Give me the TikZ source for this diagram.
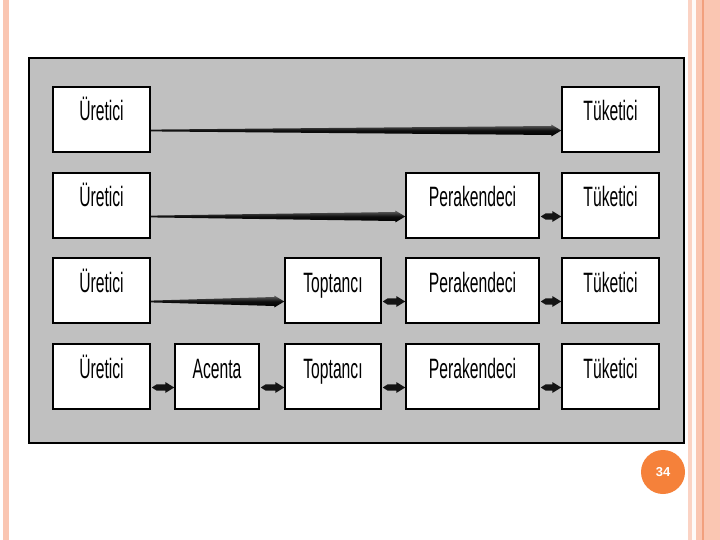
\documentclass[tikz,border=0pt]{standalone}
\usepackage{fontspec}
\setmainfont{Liberation Sans}
\newfontfamily\narrowfont[FakeStretch=0.56]{Liberation Sans}
\usetikzlibrary{calc}
\definecolor{panelgray}{HTML}{C0C0C0}
\definecolor{salmon}{HTML}{FAC6B2}
\definecolor{lightsalmon}{HTML}{FBD3C4}
\definecolor{stripeline}{HTML}{F2A07E}
\definecolor{badge}{HTML}{F5813A}
\tikzset{
  box/.style={draw=black, line width=1.5pt, fill=white, rectangle, inner sep=0pt,
    minimum height=65pt, text height=34pt, text depth=31pt,
    font=\narrowfont\fontsize{28}{30}\selectfont},
}
\newcommand{\longarrow}[2]{%
  \path let \p1=(#1.east), \p2=(#2.west) in
    [left color=black!60, right color=black, middle color=black!95, shading angle=0]
    (\x1, \y1-11pt+0.9pt) -- (\x2-10pt, \y1-11pt+4.5pt) -- (\x2-10pt, \y1-11pt+6pt)
    -- (\x2, \y1-11pt) -- (\x2-10pt, \y1-11pt-6pt) -- (\x2-10pt, \y1-11pt-4.5pt)
    -- (\x1, \y1-11pt-0.9pt) -- cycle;}
\newcommand{\shortarrow}[2]{%
  \path let \p1=(#1.east), \p2=(#2.west) in
    [fill=black!92]
    (\x1+1pt, \y1-11pt) -- (\x1+6pt, \y1-11pt+3.2pt) -- (\x2-9pt, \y1-11pt+3.2pt)
    -- (\x2-9pt, \y1-11pt+5.5pt) -- (\x2, \y1-11pt) -- (\x2-9pt, \y1-11pt-5.5pt)
    -- (\x2-9pt, \y1-11pt-3.2pt) -- (\x1+6pt, \y1-11pt-3.2pt) -- cycle;}
\begin{document}
\begin{tikzpicture}[x=1pt,y=-1pt]
\useasboundingbox (0,0) rectangle (720,540);
\fill[white] (0,0) rectangle (720,540);
% side stripes
\fill[salmon] (3,0) rectangle (9,540);
\fill[lightsalmon] (688,0) rectangle (692,540);
\fill[white!92!salmon] (692,0) rectangle (696,540);
\fill[salmon] (696,0) rectangle (720,540);
\fill[stripeline] (702,0) rectangle (703.5,540);
% panel
\draw[fill=panelgray, line width=2pt] (29,58) rectangle (684,443);
% boxes
\node[box, minimum width=97pt]  (u1) at (101.5,119.5) {Üretici};
\node[box, minimum width=97pt]  (t1) at (610.5,119.5) {Tüketici};
\node[box, minimum width=97pt]  (u2) at (101.5,205.5) {Üretici};
\node[box, minimum width=133pt] (p2) at (472.5,205.5) {Perakendeci};
\node[box, minimum width=97pt]  (t2) at (610.5,205.5) {Tüketici};
\node[box, minimum width=97pt]  (u3) at (101.5,290.5) {Üretici};
\node[box, minimum width=96pt]  (o3) at (333,290.5) {Toptancı};
\node[box, minimum width=133pt] (p3) at (472.5,290.5) {Perakendeci};
\node[box, minimum width=97pt]  (t3) at (610.5,290.5) {Tüketici};
\node[box, minimum width=97pt]  (u4) at (101.5,376.5) {Üretici};
\node[box, minimum width=84pt]  (a4) at (217,376.5) {Acenta};
\node[box, minimum width=96pt]  (o4) at (333,376.5) {Toptancı};
\node[box, minimum width=133pt] (p4) at (472.5,376.5) {Perakendeci};
\node[box, minimum width=97pt]  (t4) at (610.5,376.5) {Tüketici};
% connectors
\longarrow{u1}{t1}
\longarrow{u2}{p2}
\shortarrow{p2}{t2}
\longarrow{u3}{o3}
\shortarrow{o3}{p3}
\shortarrow{p3}{t3}
\shortarrow{u4}{a4}
\shortarrow{a4}{o4}
\shortarrow{o4}{p4}
\shortarrow{p4}{t4}
% page badge
\node[circle, fill=badge, minimum size=44pt, inner sep=0pt, text=white,
  font=\bfseries\fontsize{13}{15}\selectfont] (pg) at (663,472) {34};
\end{tikzpicture}
\end{document}
